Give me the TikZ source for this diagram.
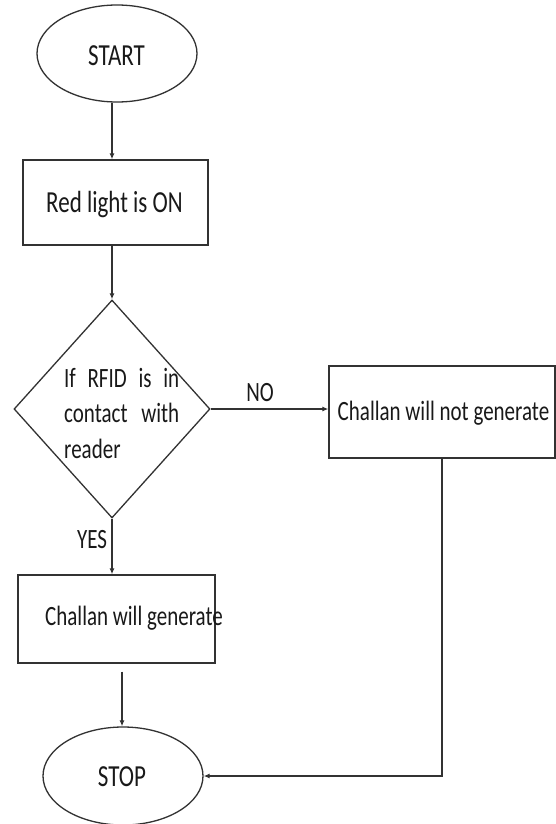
\documentclass[tikz,border=0pt]{standalone}
\usepackage{fontspec}
\usepackage{graphicx}
\setmainfont{Carlito}
\usetikzlibrary{shapes.geometric,arrows.meta}
\definecolor{linec}{RGB}{50,50,50}
\definecolor{textc}{RGB}{25,25,25}
% tall, narrow lettering
\newcommand{\tall}[1]{\scalebox{1}[1.33]{#1}}
\begin{document}
\begin{tikzpicture}[x=1pt,y=-1pt,
  shape line/.style={draw=linec,line width=1.3pt},
  terminal/.style={shape line,ellipse,inner sep=0pt},
  process/.style={shape line,rectangle,inner sep=0pt},
  decision/.style={shape line,diamond,inner sep=0pt},
  label text/.style={text=textc,inner sep=0pt,font=\fontsize{21}{25}\selectfont},
  big text/.style={label text,font=\fontsize{23}{27}\selectfont},
  flow/.style={draw=linec,line width=1.2pt,-{Latex[length=6pt,width=5pt]}}]
\useasboundingbox[fill=white] (0,0) rectangle (556,824);

% shapes
\node[terminal,minimum width=160pt,minimum height=97pt] (start) at (117,53.5) {};
\node[process,minimum width=185pt,minimum height=85pt] (red) at (115.5,202.5) {};
\node[decision,minimum width=196pt,minimum height=218pt] (dec) at (112,409) {};
\node[process,minimum width=226pt,minimum height=92pt] (no) at (442,412) {};
\node[process,minimum width=197pt,minimum height=88pt] (gen) at (116.5,619) {};
\node[terminal,minimum width=160pt,minimum height=98pt] (stop) at (123,776) {};

% texts
\node[big text] (tstart) at (116.5,56) {\tall{START}};
\node[big text] (tred) at (114.5,205) {\tall{Red light is ON}};
\node[label text,anchor=west] (tdec1) at (64,378) {\tall{\makebox[115pt][l]{If\hfill RFID\hfill is\hfill in}}};
\node[label text,anchor=west] (tdec2) at (64,413) {\tall{\makebox[115pt][l]{contact\hfill with}}};
\node[label text,anchor=west] (tdec3) at (64,449) {\tall{reader}};
\node[label text] (tno) at (443.5,413) {\tall{Challan will not generate}};
\node[label text] (tgen) at (134,618) {\tall{Challan will generate}};
\node[big text] (tstop) at (122,777) {\tall{STOP}};
\node[label text] (lno) at (260,393) {\tall{NO}};
\node[label text] (lyes) at (92,540) {\tall{YES}};

% connectors
\draw[flow] (start.south -| dec.north) -- (red.north -| dec.north);
\draw[flow] (red.south -| dec.north) -- (dec.north);
\draw[flow] (dec.east) -- (dec.east -| no.west);
\draw[flow] (dec.south) -- (dec.south |- gen.north);
\draw[flow] ([yshift=-8pt]gen.south -| tstop.north) -- (stop.north -| tstop.north);
\draw[flow] (no.south) |- (stop.east);
\end{tikzpicture}
\end{document}
